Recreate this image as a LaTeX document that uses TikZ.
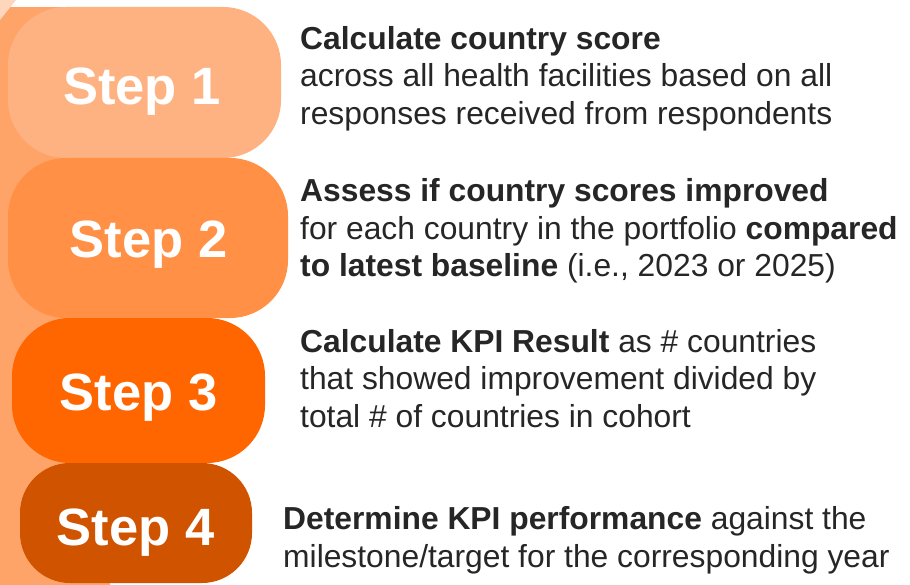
\documentclass[tikz,border=0pt]{standalone}
\usepackage{fontspec}
\setmainfont{Liberation Sans}
\definecolor{bandc}{HTML}{FFA468}
\definecolor{palec}{HTML}{FDD6BC}
\definecolor{s1c}{HTML}{FFB281}
\definecolor{s2c}{HTML}{FF9045}
\definecolor{s3c}{HTML}{FF6600}
\definecolor{s4c}{HTML}{D05400}
\definecolor{txtc}{HTML}{262626}
\tikzset{
  stepbox/.style={rectangle, rounded corners=58pt, inner sep=0pt},
  steplabel/.style={anchor=base, inner sep=0pt, text=white,
    font=\fontsize{52.5}{60}\selectfont\bfseries},
  desc/.style={anchor=base west, align=left, inner sep=0pt, text=txtc,
    font=\fontsize{31.8}{37.5}\selectfont}
}
\begin{document}
\begin{tikzpicture}[x=1pt,y=-1pt]
\useasboundingbox (0,0) rectangle (910,585);
\fill[white] (0,0) rectangle (910,585);
% left band
\fill[bandc] (0,7.5) rectangle (110,585);
\fill[palec] (0,0) -- (16,0) -- (0,20) -- cycle;
% step boxes
\node[stepbox, fill=s1c, minimum width=273pt, minimum height=151pt] (s1) at (144.5,82.5) {};
\node[stepbox, fill=s2c, minimum width=280pt, minimum height=160pt] (s2) at (148,238) {};
\node[stepbox, fill=s3c, minimum width=253pt, minimum height=145pt] (s3) at (138.5,390.5) {};
\node[stepbox, fill=s4c, minimum width=232pt, minimum height=120pt, rounded corners=50pt] (s4) at (136,523) {};
\node[steplabel] (l1) at (142,105) {Step 1};
\node[steplabel] (l2) at (148.5,258) {Step 2};
\node[steplabel] (l3) at (138.5,410) {Step 3};
\node[steplabel] (l4) at (135.5,545) {Step 4};
% descriptions (anchor = baseline of last line)
\node[desc] (d1) at (300,124.5) {\textbf{Calculate country score}\\across all health facilities based on all\\responses received from respondents};
\node[desc] (d2) at (300,277) {\textbf{Assess if country scores improved}\\for each country in the portfolio \textbf{compared}\\\textbf{to latest baseline} (i.e., 2023 or 2025)};
\node[desc] (d3) at (300,427) {\textbf{Calculate KPI Result} as \# countries\\that showed improvement divided by\\total \# of countries in cohort};
\node[desc] (d4) at (283,567) {\textbf{Determine KPI performance} against the\\milestone/target for the corresponding year};
\end{tikzpicture}
\end{document}
